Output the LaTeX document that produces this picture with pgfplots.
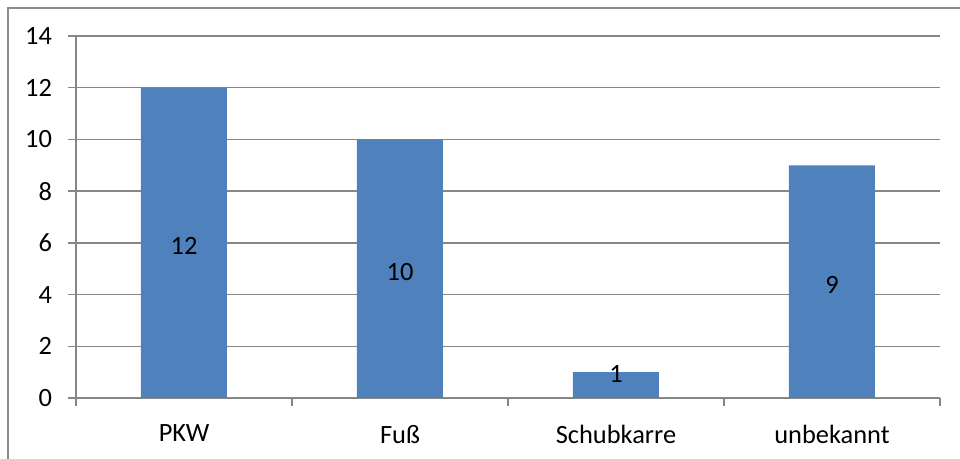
\documentclass[border=0pt]{standalone}
\usepackage{pgfplots}
\pgfplotsset{compat=1.18}
\usepackage{fontspec}
\setmainfont{Carlito}
\definecolor{barblue}{HTML}{4F81BD}
\definecolor{gridgray}{HTML}{868686}
\definecolor{framegray}{HTML}{8C8C8C}
\begin{document}
\begin{tikzpicture}
\useasboundingbox (0,0) rectangle (480pt,229.5pt);
\draw[framegray, line width=0.8pt] (4pt,-10pt) -- (4pt,225.5pt) -- (490pt,225.5pt);
\begin{axis}[at={(38pt,30.5pt)}, anchor=south west,
  scale only axis, width=432pt, height=181pt,
  xmin=-0.5, xmax=3.5, ymin=0, ymax=14,
  ytick={0,2,...,14},
  xtick={-0.5,0.5,1.5,2.5,3.5}, x tick label as interval,
  xticklabels={PKW,Fuß,Schubkarre,unbekannt},
  axis x line*=bottom, axis y line*=left,
  axis line style={gridgray, line width=0.75pt, -},
  ymajorgrids, grid style={gridgray, line width=0.75pt},
  tick align=outside, major tick length=4pt,
  tick style={gridgray, line width=0.75pt},
  tick label style={font=\fontsize{13.2}{15}\selectfont, black},
  yticklabel style={xshift=-4.5pt},
  xticklabel style={yshift=-6pt},
  /pgf/number format/assume math mode=true,
  clip=false]
\addplot[ybar, bar width=43pt, fill=barblue, draw=none]
  coordinates {(0,12) (1,10) (2,1) (3,9)};
\addplot[draw=none, mark=none, nodes near coords, point meta=explicit symbolic,
  nodes near coords align=center,
  every node near coord/.append style={anchor=center, font=\fontsize{13.2}{15}\selectfont, black}]
  coordinates {(0,5.88)[12] (1,4.89)[10] (2,0.91)[1] (3,4.37)[9]};
\end{axis}
\end{tikzpicture}
\end{document}
